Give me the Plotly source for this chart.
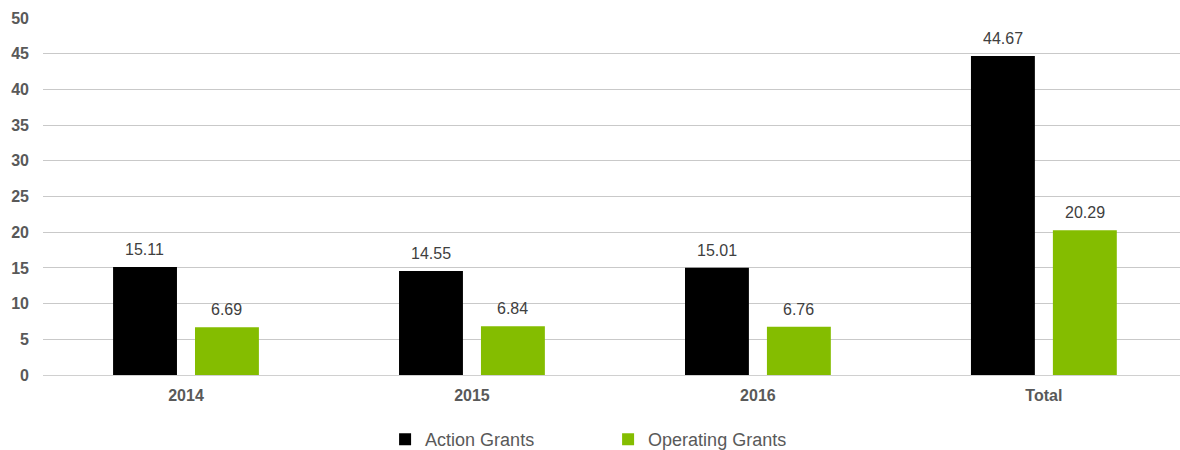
import plotly.graph_objects as go

categories = ["2014", "2015", "2016", "Total"]
action_grants = [15.11, 14.55, 15.01, 44.67]
operating_grants = [6.69, 6.84, 6.76, 20.29]
y_ticks = [0, 5, 10, 15, 20, 25, 30, 35, 40, 45, 50]

FONT = "Arial, Liberation Sans, sans-serif"

fig = go.Figure()
fig.add_trace(go.Bar(
    name="Action Grants", x=categories, y=action_grants,
    marker=dict(color="#000000", line=dict(width=0)),
))
fig.add_trace(go.Bar(
    name="Operating Grants", x=categories, y=operating_grants,
    marker=dict(color="#84bd00", line=dict(width=0)),
))

# value labels above bars (category axis positions given by index)
for vals, shift in ((action_grants, -41), (operating_grants, 41)):
    for i, v in enumerate(vals):
        fig.add_annotation(x=i, y=v, text=f"{v:.2f}", showarrow=False,
                           xanchor="center", yanchor="bottom", xshift=shift, yshift=7,
                           font=dict(family=FONT, size=16, color="#404040"))

fig.update_layout(
    width=1180, height=450,
    margin=dict(l=43, r=0, t=18, b=75, autoexpand=False),
    paper_bgcolor="white", plot_bgcolor="white",
    barmode="group", bargap=0.427, bargroupgap=0.22,
    font=dict(family=FONT, color="#595959"),
    showlegend=True,
    legend=dict(orientation="h", x=0.497, xanchor="center", y=-0.129, yanchor="top",
                font=dict(family=FONT, size=18, color="#595959"),
                entrywidth=178, itemsizing="constant"),
    xaxis=dict(type="category", range=[-0.5, 3.476], showgrid=False, showline=False,
               ticks="", automargin=False, ticklabelstandoff=9,
               tickfont=dict(family=FONT, size=16, color="#595959", weight="bold")),
    yaxis=dict(range=[0, 50], tickvals=y_ticks, showgrid=True, gridcolor="#c9c9c9",
               gridwidth=1, zeroline=True, zerolinecolor="#d0d0d0", zerolinewidth=1,
               showline=False, ticks="", ticklabelstandoff=13, automargin=False,
               tickfont=dict(family=FONT, size=16, color="#595959", weight="bold")),
)

fig.write_html("out.html", config={"displayModeBar": False},
               post_script="document.body.style.margin='0';document.body.style.overflow='hidden';")
